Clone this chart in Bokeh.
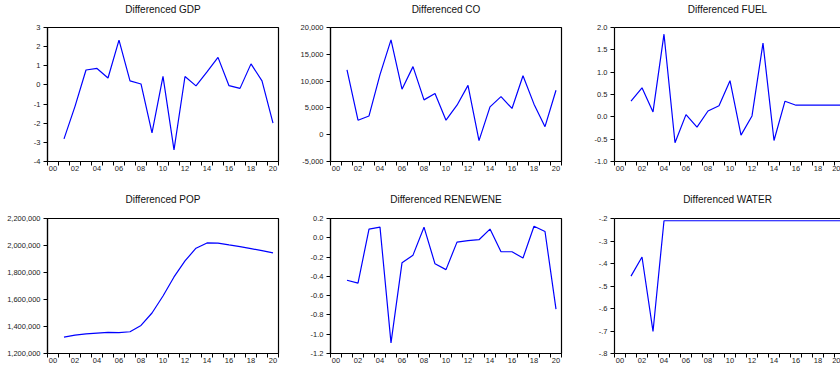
from bokeh.plotting import figure
from bokeh.layouts import row, column
from bokeh.models import FixedTicker, LinearAxis
from bokeh.embed import file_html
from bokeh.resources import INLINE

# ---- data ----
years = list(range(1, 21))
year_ticks = list(range(0, 21, 2))
year_labels = ["00", "02", "04", "06", "08", "10", "12", "14", "16", "18", "20"]
year_bounds = [y - 0.5 for y in range(0, 22)]

gdp = [-2.82, -1.12, 0.78, 0.86, 0.36, 2.34, 0.21, 0.05, -2.5, 0.45, -3.39,
       0.44, -0.05, 0.68, 1.44, -0.04, -0.18, 1.1, 0.21, -2.0]
co = [12100, 2700, 3500, 11200, 17700, 8500, 12700, 6500, 7700, 2700,
      5500, 9200, -1100, 5200, 7100, 4900, 11000, 5700, 1500, 8300]
fuel = [0.35, 0.65, 0.11, 1.85, -0.58, 0.05, -0.23, 0.13, 0.25, 0.81,
        -0.41, 0.02, 1.65, -0.53, 0.35, 0.26, 0.26, 0.26, 0.26, 0.26]
pop = [1321000, 1336000, 1346000, 1351000, 1356000, 1354000, 1361000,
       1408000, 1500000, 1626000, 1767000, 1886000, 1980000, 2019000,
       2018000, 2004000, 1992000, 1977000, 1962000, 1945000]
renewene = [-0.44, -0.47, 0.09, 0.11, -1.09, -0.26, -0.18, 0.11, -0.27, -0.33,
            -0.045, -0.03, -0.02, 0.09, -0.145, -0.145, -0.21, 0.12, 0.065, -0.74]
water = [-0.456, -0.371, -0.702, -0.21, -0.21, -0.21, -0.21, -0.21, -0.21, -0.21,
         -0.21, -0.21, -0.21, -0.21, -0.21, -0.21, -0.21, -0.21, -0.21, -0.21]

gdp_ticks = [-4, -3, -2, -1, 0, 1, 2, 3]
gdp_labels = ["-4", "-3", "-2", "-1", "0", "1", "2", "3"]
co_ticks = [-5000, 0, 5000, 10000, 15000, 20000]
co_labels = ["-5,000", "0", "5,000", "10,000", "15,000", "20,000"]
fuel_ticks = [-1.0, -0.5, 0.0, 0.5, 1.0, 1.5, 2.0]
fuel_labels = ["-1.0", "-0.5", "0.0", "0.5", "1.0", "1.5", "2.0"]
pop_ticks = [1200000, 1400000, 1600000, 1800000, 2000000, 2200000]
pop_labels = ["1,200,000", "1,400,000", "1,600,000", "1,800,000", "2,000,000", "2,200,000"]
ren_ticks = [-1.2, -1.0, -0.8, -0.6, -0.4, -0.2, 0.0, 0.2]
ren_labels = ["-1.2", "-1.0", "-0.8", "-0.6", "-0.4", "-0.2", "0.0", "0.2"]
water_ticks = [-0.8, -0.7, -0.6, -0.5, -0.4, -0.3, -0.2]
water_labels = ["-.8", "-.7", "-.6", "-.5", "-.4", "-.3", "-.2"]

FONT = "Liberation Sans"
TICK_FS = "7.5px"


def panel(title, values, yticks, ylabels, width, height, bl, br, bt, bb, xend,
          title_gap, cut=False):
    p = figure(width=width, height=height, x_range=(-0.5, xend),
               y_range=(yticks[0], yticks[-1]), output_backend="svg",
               toolbar_location=None, min_border_left=bl, min_border_right=br,
               min_border_top=bt, min_border_bottom=bb)
    p.xgrid.visible = False
    p.ygrid.visible = False
    p.background_fill_color = "white"
    p.border_fill_color = "white"

    xa = p.below[0]
    ya = p.left[0]

    # top axis: carries the panel title as its axis label
    top = LinearAxis(ticker=FixedTicker(ticks=[]), major_tick_out=0, minor_tick_out=0,
                     major_tick_in=0, minor_tick_in=0, major_label_text_font_size="0px",
                     axis_label=title, axis_label_standoff=title_gap,
                     axis_label_text_font=FONT, axis_label_text_font_size="10px",
                     axis_label_text_font_style="normal", axis_label_text_color="#111111")
    if cut:
        p.outline_line_color = None
        top.axis_line_color = "black"
        top.axis_line_width = 1.2
    else:
        p.outline_line_color = "black"
        p.outline_line_width = 1.2
        p.outline_line_alpha = 1.0
        top.axis_line_color = None
    p.add_layout(top, "above")

    xa.ticker = FixedTicker(ticks=year_ticks, minor_ticks=year_bounds)
    xa.major_label_overrides = {t: l for t, l in zip(year_ticks, year_labels)}
    xa.major_tick_out = 0
    xa.major_tick_in = 0
    xa.minor_tick_out = 4
    xa.minor_tick_in = 0
    xa.minor_tick_line_color = "black"
    xa.axis_line_color = "black"
    xa.axis_line_width = 1.2
    xa.major_label_text_font = FONT
    xa.major_label_text_font_size = TICK_FS
    xa.major_label_text_color = "#222222"
    xa.major_label_standoff = 0

    ya.ticker = FixedTicker(ticks=yticks)
    ya.major_label_overrides = {t: l for t, l in zip(yticks, ylabels)}
    ya.major_tick_out = 4
    ya.major_tick_in = 0
    ya.minor_tick_out = 0
    ya.minor_tick_in = 0
    ya.major_tick_line_color = "black"
    ya.axis_line_color = "black"
    ya.axis_line_width = 1.2
    ya.major_label_text_font = FONT
    ya.major_label_text_font_size = TICK_FS
    ya.major_label_text_color = "#222222"
    ya.major_label_standoff = 3

    p.line(years, values, line_color="#0000FF", line_width=1.2)
    return p


XEND = 20.5
XEND_CUT = -0.5 + 226 / 11.0

f1 = panel("Differenced GDP", gdp, gdp_ticks, gdp_labels, 290, 187, 47, 12, 26, 26, XEND, 13)
f2 = panel("Differenced CO", co, co_ticks, co_labels, 286, 187, 40, 15, 26, 26, XEND, 13)
f3 = panel("Differenced FUEL", fuel, fuel_ticks, fuel_labels, 264, 187, 38, 0, 26, 26, XEND_CUT, 13, cut=True)
f4 = panel("Differenced POP", pop, pop_ticks, pop_labels, 290, 187, 47, 12, 31, 21, XEND, 14)
f5 = panel("Differenced RENEWENE", renewene, ren_ticks, ren_labels, 286, 187, 40, 15, 31, 21, XEND, 14)
f6 = panel("Differenced WATER", water, water_ticks, water_labels, 264, 187, 38, 0, 31, 21, XEND_CUT, 14, cut=True)

p = column(row(f1, f2, f3), row(f4, f5, f6))

open("out.html", "w").write(file_html(p, INLINE))
